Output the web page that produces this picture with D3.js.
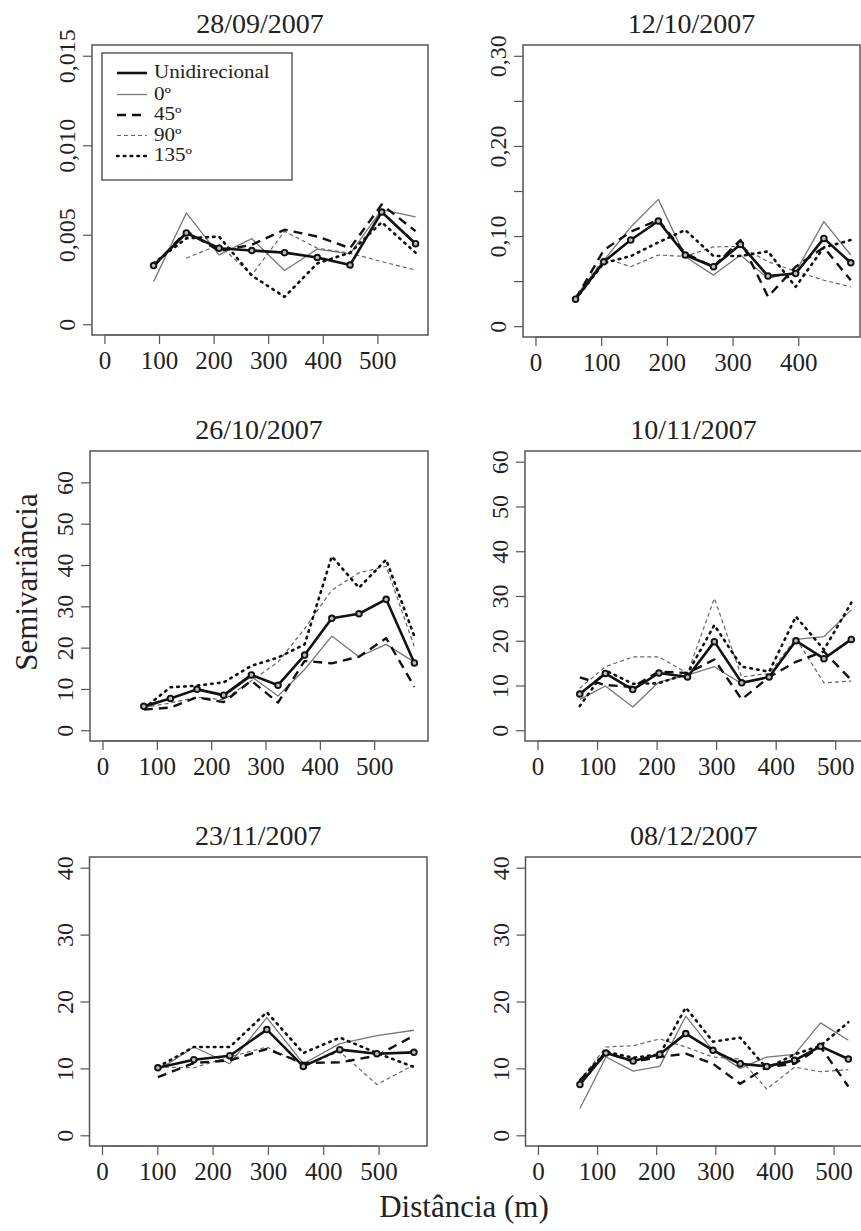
<!DOCTYPE html>
<html>
<head>
<meta charset="utf-8">
<script src="https://d3js.org/d3.v7.min.js"></script>
<style>
  body { margin: 0; background: #fff; }
  text { font-family: "Liberation Serif", "Times New Roman", serif; }
</style>
</head>
<body>
<script>
// ---------------- DATA ----------------
const dates = ["28/09/2007", "12/10/2007", "26/10/2007", "10/11/2007", "23/11/2007", "08/12/2007"];
const seriesNames = ["Unidirecional", "0º", "45º", "90º", "135º"];

const p1_lags = [90, 150, 210, 270, 330, 390, 450, 508, 570];
const p1_uni  = [0.00328, 0.0051, 0.00425, 0.00412, 0.0040, 0.00373, 0.00331, 0.00627, 0.0045];
const p1_d0   = [0.00238, 0.00622, 0.00388, 0.00478, 0.0030, 0.0042, 0.00393, 0.0064, 0.0060];
const p1_d45  = [0.00322, 0.0052, 0.0041, 0.00444, 0.00528, 0.0049, 0.00425, 0.00669, 0.0052];
const p1_d90  = [null, 0.00369, 0.00444, 0.00275, 0.00519, 0.00425, 0.00397, 0.0035, 0.00303];
const p1_d135 = [0.0034, 0.0048, 0.0049, 0.00272, 0.00153, 0.0034, 0.0040, 0.0057, 0.0040];

const p2_lags = [61, 104, 145, 187, 228, 271, 312, 354, 396, 439, 480];
const p2_uni  = [0.030, 0.0715, 0.0956, 0.1167, 0.079, 0.066, 0.0907, 0.0556, 0.0585, 0.0974, 0.0704];
const p2_d0   = [0.033, 0.073, 0.110, 0.1407, 0.077, 0.0567, 0.079, 0.053, 0.060, 0.116, 0.079];
const p2_d45  = [0.030, 0.0844, 0.1048, 0.118, 0.0807, 0.066, 0.0956, 0.0326, 0.066, 0.0874, 0.051];
const p2_d90  = [0.031, 0.0756, 0.066, 0.079, 0.0774, 0.088, 0.0885, 0.0715, 0.061, 0.051, 0.0437];
const p2_d135 = [0.030, 0.070, 0.0778, 0.093, 0.1067, 0.0778, 0.0778, 0.083, 0.0437, 0.0874, 0.0956];

const p3_lags = [76, 125, 174, 223, 274, 323, 372, 422, 472, 522, 574];
const p3_uni  = [5.8, 7.7, 9.9, 8.5, 13.4, 10.9, 18.2, 27.1, 28.2, 31.7, 16.3];
const p3_d0   = [5.3, 7.7, 10.0, 8.2, 13.0, 8.3, 14.7, 22.8, 17.8, 20.8, 16.5];
const p3_d45  = [5.0, 5.5, 8.0, 6.8, 12.0, 6.7, 16.8, 16.2, 17.8, 22.3, 10.5];
const p3_d90  = [5.5, 6.6, 8.0, 7.4, 12.0, 16.5, 24.6, 33.9, 38.1, 39.7, 20.2];
const p3_d135 = [5.3, 10.4, 10.8, 11.6, 15.6, 17.6, 20.8, 42.1, 34.5, 41.3, 22.7];

const p4_lags = [71, 114, 160, 204, 252, 297, 343, 389, 434, 481, 527];
const p4_uni  = [8.1, 12.7, 9.1, 12.8, 11.9, 19.8, 10.6, 11.9, 20.0, 16.0, 20.3];
const p4_d0   = [6.9, 9.9, 5.2, 10.8, 12.3, 14.2, 10.4, 11.9, 20.3, 20.9, 26.9];
const p4_d45  = [11.8, 10.1, 9.7, 13.1, 12.8, 15.8, 6.9, 11.9, 15.3, 17.6, 11.2];
const p4_d90  = [9.4, 14.2, 16.4, 16.4, 12.7, 29.5, 11.9, 12.7, 20.5, 10.6, 11.0];
const p4_d135 = [5.4, 13.4, 10.4, 10.5, 12.7, 23.5, 14.2, 13.1, 25.4, 18.0, 28.5];

const p5_lags = [101, 166, 231, 298, 364, 430, 497, 564];
const p5_uni  = [10.1, 11.3, 11.9, 15.8, 10.3, 12.8, 12.2, 12.4];
const p5_d0   = [9.7, 13.2, 10.7, 17.6, 10.7, 13.7, 14.9, 15.7];
const p5_d45  = [8.7, 10.8, 11.2, 12.9, 10.8, 10.9, 11.9, 14.9];
const p5_d90  = [10.2, 10.1, 11.7, 13.2, 10.5, 12.5, 7.6, 10.5];
const p5_d135 = [10.2, 13.2, 13.2, 18.4, 12.3, 14.6, 12.3, 10.2];

const p6_lags = [71, 115, 161, 206, 250, 296, 342, 387, 434, 478, 525];
const p6_uni  = [7.6, 12.3, 11.1, 12.1, 15.2, 12.7, 10.7, 10.3, 11.2, 13.3, 11.4];
const p6_d0   = [4.0, 11.7, 9.6, 10.3, 17.8, 12.7, 10.0, 11.7, 12.1, 16.8, 14.2];
const p6_d45  = [8.2, 12.4, 11.0, 11.7, 12.2, 10.7, 7.7, 10.2, 10.7, 13.2, 7.3];
const p6_d90  = [8.2, 13.2, 13.4, 14.4, 13.2, 11.7, 11.4, 6.9, 10.2, 9.5, 9.8];
const p6_d135 = [8.2, 12.5, 11.6, 12.1, 19.1, 14.0, 14.6, 10.0, 12.1, 13.4, 16.9];

// tick values and labels
const p1_yTicks = [0, 0.005, 0.010, 0.015];
const p1_yLabels = ["0", "0,005", "0,010", "0,015"];
const p2_yTicks = [0, 0.05, 0.10, 0.15, 0.20, 0.25, 0.30];
const p2_yLabels = ["0", "", "0,10", "", "0,20", "", "0,30"];
const p34_yTicks = [0, 10, 20, 30, 40, 50, 60];
const p56_yTicks = [0, 10, 20, 30, 40];
const xTicks5 = [0, 100, 200, 300, 400, 500];
const xTicks4 = [0, 100, 200, 300, 400];

const yAxisTitle = "Semivariância";
const xAxisTitle = "Distância (m)";

// ---------------- LAYOUT / STYLE ----------------
const W = 861, H = 1231;
const panels = [
  { title: dates[0], box: [92, 428, 45, 335], xlim: [0, 570], ylim: [0, 0.015],
    lags: p1_lags, series: [p1_uni, p1_d0, p1_d45, p1_d90, p1_d135],
    xTicks: xTicks5, yTicks: p1_yTicks, yLabels: p1_yLabels, legend: true },
  { title: dates[1], box: [523, 860, 45, 337], xlim: [0, 475], ylim: [0, 0.30],
    lags: p2_lags, series: [p2_uni, p2_d0, p2_d45, p2_d90, p2_d135],
    xTicks: xTicks4, yTicks: p2_yTicks, yLabels: p2_yLabels },
  { title: dates[2], box: [90, 428, 451, 741], xlim: [0, 576], ylim: [0, 65],
    lags: p3_lags, series: [p3_uni, p3_d0, p3_d45, p3_d90, p3_d135],
    xTicks: xTicks5, yTicks: p34_yTicks, yLabels: p34_yTicks.map(String) },
  { title: dates[3], box: [525, 862, 451, 741], xlim: [0, 524], ylim: [0, 60],
    lags: p4_lags, series: [p4_uni, p4_d0, p4_d45, p4_d90, p4_d135],
    xTicks: xTicks5, yTicks: p34_yTicks, yLabels: p34_yTicks.map(String) },
  { title: dates[4], box: [89.5, 427, 857, 1146], xlim: [0, 565], ylim: [0, 40],
    lags: p5_lags, series: [p5_uni, p5_d0, p5_d45, p5_d90, p5_d135],
    xTicks: xTicks5, yTicks: p56_yTicks, yLabels: p56_yTicks.map(String) },
  { title: dates[5], box: [525.5, 862, 857, 1146], xlim: [0, 527], ylim: [0, 40],
    lags: p6_lags, series: [p6_uni, p6_d0, p6_d45, p6_d90, p6_d135],
    xTicks: xTicks5, yTicks: p56_yTicks, yLabels: p56_yTicks.map(String) }
];

const styles = [
  { color: "#111", width: 2.6, dash: null, points: true },   // Unidirecional
  { color: "#777", width: 1.3, dash: null },                 // 0º
  { color: "#111", width: 2.4, dash: "9,6" },                // 45º
  { color: "#666", width: 1.2, dash: "4,3" },                // 90º
  { color: "#111", width: 2.6, dash: "1.6,5.2", cap: "round" } // 135º
];
const drawOrder = [1, 3, 2, 4, 0];

const svg = d3.select("body").append("svg")
  .attr("width", W).attr("height", H)
  .style("background", "#fff");

function expand(lim) {
  const d = (lim[1] - lim[0]) * 0.04;
  return [lim[0] - d, lim[1] + d];
}

panels.forEach((p, pi) => {
  const [L, R, T, B] = p.box;
  const x = d3.scaleLinear().domain(expand(p.xlim)).range([L, R]);
  const y = d3.scaleLinear().domain(expand(p.ylim)).range([B, T]);
  const g = svg.append("g");

  // title
  g.append("text").attr("x", (L + R) / 2).attr("y", T - 12)
    .attr("text-anchor", "middle").attr("font-size", 28).attr("fill", "#222")
    .text(p.title);

  // x axis
  const xAxis = d3.axisBottom(x).tickValues(p.xTicks).tickSize(9).tickPadding(4)
    .tickFormat(d => String(d));
  const xg = g.append("g").attr("transform", `translate(0,${B})`).call(xAxis);
  xg.select(".domain").remove();
  xg.append("line").attr("x1", x(p.xTicks[0])).attr("x2", x(p.xTicks[p.xTicks.length - 1]))
    .attr("stroke", "#555").attr("stroke-width", 1.2);
  xg.selectAll(".tick line").attr("stroke", "#555").attr("stroke-width", 1.2);
  xg.selectAll(".tick text").attr("font-size", 25).attr("fill", "#222")
    .attr("font-family", "Liberation Serif, serif").attr("dy", null).attr("y", 34);

  // y axis
  const yAxis = d3.axisLeft(y).tickValues(p.yTicks).tickSize(9)
    .tickFormat((d, i) => p.yLabels[i]);
  const yg = g.append("g").attr("transform", `translate(${L},0)`).call(yAxis);
  yg.select(".domain").remove();
  yg.selectAll(".tick line").attr("stroke", "#555").attr("stroke-width", 1.2);
  yg.selectAll(".tick text")
    .attr("font-size", 24).attr("fill", "#222").attr("font-family", "Liberation Serif, serif")
    .attr("x", null).attr("dy", null)
    .attr("text-anchor", "middle")
    .attr("transform", "translate(-17,0) rotate(-90)");

  // clip
  const clipId = "clip" + pi;
  svg.append("clipPath").attr("id", clipId).append("rect")
    .attr("x", L).attr("y", T).attr("width", R - L).attr("height", B - T);

  const plot = g.append("g").attr("clip-path", `url(#${clipId})`);
  drawOrder.forEach(si => {
    const st = styles[si];
    const pts = p.lags.map((lag, i) => ({ x: lag, y: p.series[si][i] }));
    const line = d3.line().defined(d => d.y != null).x(d => x(d.x)).y(d => y(d.y));
    plot.append("path").datum(pts)
      .attr("d", line).attr("fill", "none")
      .attr("stroke", st.color).attr("stroke-width", st.width)
      .attr("stroke-dasharray", st.dash)
      .attr("stroke-linecap", st.cap || "butt")
      .attr("stroke-linejoin", "round");
    if (st.points) {
      plot.selectAll(null).data(pts.filter(d => d.y != null)).enter().append("circle")
        .attr("cx", d => x(d.x)).attr("cy", d => y(d.y)).attr("r", 2.8)
        .attr("fill", "#bbb").attr("stroke", "#111").attr("stroke-width", 1.9);
    }
  });

  // box
  g.append("rect").attr("x", L).attr("y", T).attr("width", R - L).attr("height", B - T)
    .attr("fill", "none").attr("stroke", "#555").attr("stroke-width", 1.5);

  // legend
  if (p.legend) {
    const lg = g.append("g");
    lg.append("rect").attr("x", 102).attr("y", 53).attr("width", 190).attr("height", 127)
      .attr("fill", "#fff").attr("stroke", "#444").attr("stroke-width", 1.3);
    const rowY = [73, 94.5, 115, 135.5, 156];
    seriesNames.forEach((name, i) => {
      const st = styles[i];
      lg.append("line").attr("x1", 117).attr("x2", 147).attr("y1", rowY[i]).attr("y2", rowY[i])
        .attr("stroke", st.color).attr("stroke-width", st.width)
        .attr("stroke-dasharray", st.dash).attr("stroke-linecap", st.cap || "butt");
      lg.append("text")
        .attr("transform", `translate(154,${rowY[i] + 5}) scale(1.17,1)`)
        .attr("font-size", 18).attr("fill", "#222").text(name);
    });
  }
});

// shared axis titles
svg.append("text").attr("transform", "translate(37,582) rotate(-90)")
  .attr("text-anchor", "middle").attr("font-size", 31).attr("fill", "#222").text(yAxisTitle);
svg.append("text").attr("x", 464).attr("y", 1217)
  .attr("text-anchor", "middle").attr("font-size", 31).attr("fill", "#222").text(xAxisTitle);
</script>
</body>
</html>
